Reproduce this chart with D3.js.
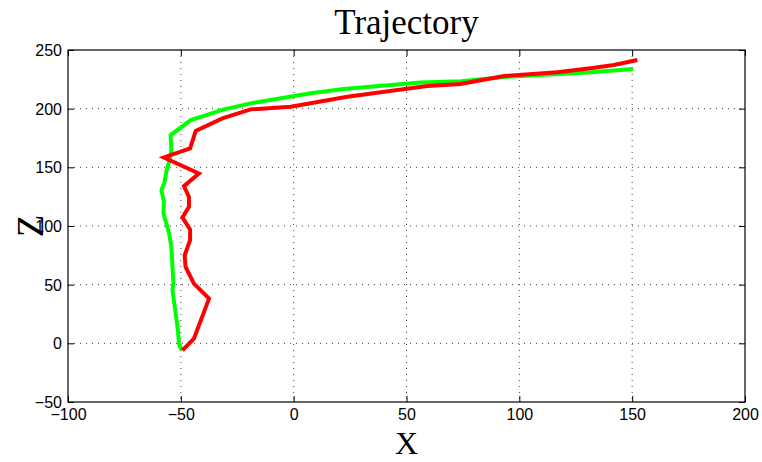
<!DOCTYPE html>
<html>
<head>
<meta charset="utf-8">
<script src="https://cdn.jsdelivr.net/npm/d3@7"></script>
<style>
  body { margin: 0; background: #fff; }
  .tick text { font-family: "Liberation Sans", Arial, sans-serif; font-size: 16px; fill: #000; }
  .grid line { stroke: #444; stroke-dasharray: 1 5; stroke-width: 1; }
</style>
</head>
<body>
<div id="chart"></div>
<script>
// Tick values
const xTicks = [-100, -50, 0, 50, 100, 150, 200];
const zTicks = [-50, 0, 50, 100, 150, 200, 250];

// Green trajectory (x, z)
const greenX = [-49.6, -50.8, -51.3, -52.3, -53.7, -53.3, -54.2, -55.2, -57.7, -57.5, -58.6, -57.2, -56.3, -55.2, -54.2, -54.5, -45.6, -30.9, -19.1, 7.5, 22.2, 56.3, 74.0, 94.7, 131.6, 150.5];
const greenZ = [-6.0, -0.3, 11.1, 25.6, 45.2, 51.2, 82.2, 93.9, 110.9, 120.6, 130.5, 137.6, 147.6, 154.7, 163.2, 177.5, 190.3, 199.4, 204.5, 213.1, 216.7, 222.4, 223.3, 227.2, 231.0, 233.8];

// Red trajectory (x, z)
const redX = [-49.3, -44.2, -37.5, -44.2, -47.9, -48.3, -45.9, -45.9, -49.3, -46.4, -46.4, -48.6, -42.0, -57.5, -45.9, -43.4, -31.6, -19.1, -1.3, 23.8, 59.2, 74.0, 93.2, 116.8, 131.6, 141.9, 152.3];
const redZ = [-6.0, 4.0, 38.1, 50.9, 65.1, 75.1, 87.9, 97.0, 107.3, 116.3, 124.8, 134.0, 144.8, 158.4, 166.1, 181.1, 191.7, 199.4, 201.6, 210.2, 219.3, 221.0, 227.8, 231.0, 234.4, 237.2, 241.5];

const W = 762, H = 462;
const margin = { top: 50, right: 17, bottom: 60, left: 68 };
const width = W - margin.left - margin.right;
const height = H - margin.top - margin.bottom;

const svg = d3.select("#chart").append("svg")
  .attr("width", W)
  .attr("height", H);

const g = svg.append("g")
  .attr("transform", `translate(${margin.left},${margin.top})`);

const x = d3.scaleLinear().domain([-100, 200]).range([0, width]);
const y = d3.scaleLinear().domain([-50, 250]).range([height, 0]);

// dotted grid
g.append("g").attr("class", "grid")
  .selectAll("line.v").data(xTicks.slice(1, -1)).join("line")
  .attr("x1", d => x(d)).attr("x2", d => x(d))
  .attr("y1", 0).attr("y2", height);
g.append("g").attr("class", "grid")
  .selectAll("line.h").data(zTicks.slice(1, -1)).join("line")
  .attr("x1", 0).attr("x2", width)
  .attr("y1", d => y(d)).attr("y2", d => y(d));

// axes with inward ticks
const tickLen = 6;
const fmt = d => d < 0 ? "\u2212" + (-d) : d;
g.append("g")
  .attr("transform", `translate(0,${height})`)
  .call(d3.axisBottom(x).tickValues(xTicks).tickSizeInner(-tickLen).tickSizeOuter(0).tickPadding(7).tickFormat(fmt))
  .call(a => a.select(".domain").remove());
g.append("g")
  .call(d3.axisLeft(y).tickValues(zTicks).tickSizeInner(-tickLen).tickSizeOuter(0).tickPadding(6).tickFormat(fmt))
  .call(a => a.select(".domain").remove())
  .call(a => a.selectAll("text").attr("dy", "0.35em"));
g.append("g")
  .call(d3.axisTop(x).tickValues(xTicks).tickSizeInner(-tickLen).tickSizeOuter(0).tickFormat(""))
  .call(a => a.select(".domain").remove());
g.append("g")
  .attr("transform", `translate(${width},0)`)
  .call(d3.axisRight(y).tickValues(zTicks).tickSizeInner(-tickLen).tickSizeOuter(0).tickFormat(""))
  .call(a => a.select(".domain").remove());

// frame
g.append("rect")
  .attr("width", width).attr("height", height)
  .attr("fill", "none").attr("stroke", "#000").attr("stroke-width", 1.2);

const line = d3.line().x(d => x(d[0])).y(d => y(d[1]));

g.append("path")
  .datum(greenX.map((v, i) => [v, greenZ[i]]))
  .attr("d", line)
  .attr("fill", "none")
  .attr("stroke", "#00ff00")
  .attr("stroke-width", 4)
  .attr("stroke-linejoin", "miter");

g.append("path")
  .datum(redX.map((v, i) => [v, redZ[i]]))
  .attr("d", line)
  .attr("fill", "none")
  .attr("stroke", "#ff0000")
  .attr("stroke-width", 4)
  .attr("stroke-linejoin", "miter");

// title and axis labels
svg.append("text")
  .attr("x", margin.left + width / 2).attr("y", 34)
  .attr("text-anchor", "middle")
  .attr("font-family", "Liberation Serif, Times New Roman, serif")
  .attr("font-size", 35)
  .text("Trajectory");

svg.append("text")
  .attr("x", margin.left + width / 2).attr("y", 454)
  .attr("text-anchor", "middle")
  .attr("font-family", "Liberation Serif, Times New Roman, serif")
  .attr("font-size", 32)
  .text("X");

svg.append("text")
  .attr("transform", `translate(43,${margin.top + height / 2}) rotate(-90)`)
  .attr("text-anchor", "middle")
  .attr("font-family", "Liberation Serif, Times New Roman, serif")
  .attr("font-size", 37)
  .text("Z");
</script>
</body>
</html>
